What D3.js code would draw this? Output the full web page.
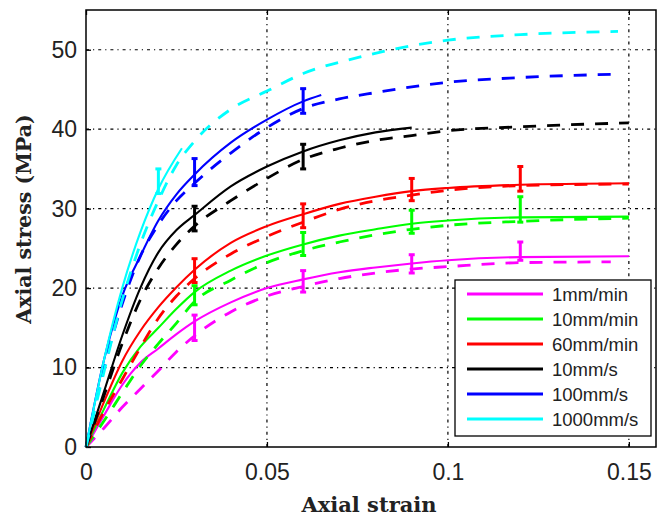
<!DOCTYPE html>
<html>
<head>
<meta charset="utf-8">
<script src="https://cdn.jsdelivr.net/npm/d3@7"></script>
<style>
  html, body { margin: 0; padding: 0; background: #fff; }
  svg { display: block; }
</style>
</head>
<body>
<svg id="chart" width="657" height="520"></svg>
<script>
// ---------------- DATA ----------------
const seriesLabels = ["1mm/min", "10mm/min", "60mm/min", "10mm/s", "100mm/s", "1000mm/s"];
const seriesColors = ["#ff00ff", "#00ff00", "#ff0000", "#000000", "#0000ff", "#00ffff"];

const xTicks = [0, 0.05, 0.1, 0.15];
const xTickLabels = ["0", "0.05", "0.1", "0.15"];
const yTicks = [0, 10, 20, 30, 40, 50];
const yTickLabels = ["0", "10", "20", "30", "40", "50"];

// solid curves: [strain, stress (MPa)]
const solid1mmMin = [[0,0],[0.005,4],[0.01,7.8],[0.015,10.6],[0.02,12.4],[0.025,14.2],[0.03,15.8],[0.04,18.2],[0.05,20.0],[0.06,21.1],[0.07,22.0],[0.08,22.6],[0.09,23.1],[0.1,23.5],[0.12,23.9],[0.15,24.0]];
const solid10mmMin = [[0,0],[0.005,4.8],[0.01,9.3],[0.015,12.6],[0.02,15.0],[0.025,17.4],[0.03,19.5],[0.04,22.2],[0.05,24.1],[0.06,25.5],[0.07,26.6],[0.08,27.4],[0.09,28.1],[0.1,28.5],[0.12,28.9],[0.15,29.0]];
const solid60mmMin = [[0,0],[0.005,5.7],[0.01,10.8],[0.015,14.6],[0.02,17.6],[0.025,20.1],[0.03,22.3],[0.04,25.7],[0.05,27.8],[0.06,29.3],[0.07,30.6],[0.08,31.5],[0.09,32.2],[0.1,32.6],[0.12,33.0],[0.15,33.2]];
const solid10mmS = [[0,0],[0.0025,3.5],[0.005,7],[0.01,14],[0.015,20],[0.02,24.5],[0.025,27.3],[0.03,29.2],[0.04,32.8],[0.05,35.3],[0.06,37.2],[0.07,38.6],[0.08,39.6],[0.09,40.2]];
const solid100mmS = [[0,0],[0.005,11],[0.01,19],[0.015,24],[0.02,28.5],[0.025,31.8],[0.03,34.3],[0.04,38.3],[0.05,41.2],[0.06,43.5],[0.065,44.3]];
const solid1000mmS = [[0,0],[0.005,11],[0.01,20],[0.015,27],[0.02,32.5],[0.0265,37.6]];

// dashed curves: [strain, stress (MPa)]
const dashed1mmMin = [[0,0],[0.005,2.4],[0.01,5],[0.015,7.3],[0.02,9.6],[0.025,12],[0.03,14],[0.04,17],[0.05,19],[0.06,20.2],[0.07,21.2],[0.08,21.9],[0.09,22.4],[0.1,22.7],[0.12,23.2],[0.145,23.3]];
const dashed10mmMin = [[0,0],[0.005,3.3],[0.01,6.8],[0.015,10.2],[0.02,13],[0.025,15.6],[0.03,18.3],[0.04,21],[0.05,23.2],[0.06,24.7],[0.07,25.8],[0.08,26.7],[0.09,27.4],[0.1,27.9],[0.12,28.4],[0.15,28.8]];
const dashed60mmMin = [[0,0],[0.005,4.5],[0.01,8.5],[0.015,12.5],[0.02,16.2],[0.025,19],[0.03,21.2],[0.04,24.3],[0.05,26.5],[0.06,28.3],[0.07,29.9],[0.08,31],[0.09,31.7],[0.1,32.3],[0.12,32.9],[0.15,33.1]];
const dashed10mmS = [[0,0],[0.005,6.5],[0.01,13],[0.015,18.5],[0.02,22.5],[0.025,25.5],[0.03,27.8],[0.04,31],[0.05,33.8],[0.06,36.2],[0.07,37.6],[0.08,38.6],[0.09,39.2],[0.1,39.8],[0.12,40.3],[0.15,40.8]];
const dashed100mmS = [[0,0],[0.005,10],[0.01,18],[0.015,24],[0.02,28],[0.025,31],[0.03,33.2],[0.04,37],[0.05,40.2],[0.06,42.6],[0.07,43.8],[0.08,44.6],[0.1,45.9],[0.12,46.5],[0.145,46.9]];
const dashed1000mmS = [[0,0],[0.005,9.5],[0.01,18.5],[0.015,25.5],[0.02,31],[0.025,35.5],[0.03,38.5],[0.04,42.5],[0.05,44.8],[0.06,47],[0.075,49],[0.09,50.5],[0.1,51.2],[0.12,51.9],[0.147,52.3]];

// error bars: [strain, low, high]
const err1mmMin = [[0.03,13.4,16.6],[0.06,19.5,22.2],[0.09,21.9,24.2],[0.12,23.5,25.8]];
const err10mmMin = [[0.03,17.9,20.3],[0.06,24.1,27.0],[0.09,26.9,29.8],[0.12,28.3,31.5]];
const err60mmMin = [[0.03,20.7,23.7],[0.06,27.6,30.6],[0.09,31.0,33.8],[0.12,32.2,35.3]];
const err10mmS = [[0.03,27.2,30.3],[0.06,35.0,38.1]];
const err100mmS = [[0.03,32.9,36.3],[0.06,42.0,45.1]];
const err1000mmS = [[0.02,31.9,35.0]];

const solids = [solid1mmMin, solid10mmMin, solid60mmMin, solid10mmS, solid100mmS, solid1000mmS];
const dashes = [dashed1mmMin, dashed10mmMin, dashed60mmMin, dashed10mmS, dashed100mmS, dashed1000mmS];
const errs = [err1mmMin, err10mmMin, err60mmMin, err10mmS, err100mmS, err1000mmS];

const xLabel = "Axial strain";
const yLabel = "Axial stress (MPa)";

// ---------------- LAYOUT ----------------
const svg = d3.select("#chart");
const L = 86, R = 656, T = 10, B = 447;
const x = d3.scaleLinear().domain([0, 0.1575]).range([L, R]);
const y = d3.scaleLinear().domain([0, 55]).range([B, T]);

// grid
const grid = svg.append("g").attr("stroke", "#000").attr("stroke-width", 1.2)
  .attr("stroke-dasharray", "3,4,1.2,4");
xTicks.filter(d => d > 0).forEach(d => {
  grid.append("line").attr("x1", x(d)).attr("x2", x(d)).attr("y1", B).attr("y2", T);
});
yTicks.filter(d => d > 0).forEach(d => {
  grid.append("line").attr("x1", L).attr("x2", R).attr("y1", y(d)).attr("y2", y(d));
});

// axes
const tickFont = "'Liberation Sans', Arial, sans-serif";
const xAxis = d3.axisBottom(x).tickValues(xTicks).tickFormat((d, i) => xTickLabels[i]).tickSizeInner(-5).tickSizeOuter(0).tickPadding(12);
const yAxis = d3.axisLeft(y).tickValues(yTicks).tickFormat((d, i) => yTickLabels[i]).tickSizeInner(-5).tickSizeOuter(0).tickPadding(9);
const gx = svg.append("g").attr("transform", `translate(0,${B})`).call(xAxis);
const gy = svg.append("g").attr("transform", `translate(${L},0)`).call(yAxis);
[gx, gy].forEach(g => {
  g.select(".domain").remove();
  g.selectAll(".tick line").attr("stroke", "#000").attr("stroke-width", 1.3);
  g.selectAll(".tick text").attr("fill", "#222").style("font-family", tickFont).style("font-size", "23px");
});
gx.selectAll(".tick text").attr("dy", "0.9em");
const gxt = svg.append("g").attr("transform", `translate(0,${T})`).call(d3.axisTop(x).tickValues(xTicks).tickSizeInner(-5).tickSizeOuter(0).tickFormat(""));
gxt.select(".domain").remove();
gxt.selectAll(".tick line").attr("stroke", "#000").attr("stroke-width", 1.3);

// curves
const line = d3.line().x(d => x(d[0])).y(d => y(d[1])).curve(d3.curveMonotoneX);
const curves = svg.append("g").attr("fill", "none");
for (let i = 0; i < 6; i++) {
  curves.append("path").datum(dashes[i]).attr("d", line)
    .attr("stroke", seriesColors[i]).attr("stroke-width", 2.8)
    .attr("stroke-dasharray", "13,11");
  curves.append("path").datum(solids[i]).attr("d", line)
    .attr("stroke", seriesColors[i]).attr("stroke-width", 2.1);
}

// error bars
const eb = svg.append("g");
for (let i = 0; i < 6; i++) {
  errs[i].forEach(e => {
    const cx = x(e[0]);
    const g = eb.append("g").attr("stroke", seriesColors[i]).attr("stroke-width", 3);
    g.append("line").attr("x1", cx).attr("x2", cx).attr("y1", y(e[1])).attr("y2", y(e[2]));
    g.append("line").attr("x1", cx - 3).attr("x2", cx + 3).attr("y1", y(e[1])).attr("y2", y(e[1]));
    g.append("line").attr("x1", cx - 3).attr("x2", cx + 3).attr("y1", y(e[2])).attr("y2", y(e[2]));
  });
}

// frame
svg.append("rect").attr("x", L).attr("y", T).attr("width", R - L).attr("height", B - T)
  .attr("fill", "none").attr("stroke", "#000").attr("stroke-width", 1.5);

// legend
const lg = svg.append("g");
lg.append("rect").attr("x", 455).attr("y", 280).attr("width", 196).attr("height", 156)
  .attr("fill", "#fff").attr("stroke", "#000").attr("stroke-width", 1.3);
seriesLabels.forEach((s, i) => {
  const yy = 294 + i * 25;
  lg.append("line").attr("x1", 467).attr("x2", 543).attr("y1", yy).attr("y2", yy)
    .attr("stroke", seriesColors[i]).attr("stroke-width", 3);
  lg.append("text").attr("x", 552).attr("y", yy).attr("dy", "0.36em")
    .style("font-family", tickFont).style("font-size", "18.5px").attr("fill", "#222").text(s);
});

// axis labels
const labelFont = "'DejaVu Serif', 'Liberation Serif', serif";
svg.append("text").attr("x", 369).attr("y", 512).attr("text-anchor", "middle")
  .style("font-family", labelFont).style("font-weight", "bold")
  .style("font-size", "21px").attr("fill", "#222").text(xLabel);
svg.append("text").attr("transform", "translate(31,219) rotate(-90)").attr("text-anchor", "middle")
  .style("font-family", labelFont).style("font-weight", "bold")
  .style("font-size", "20.5px").attr("fill", "#222").text(yLabel);
</script>
</body>
</html>
